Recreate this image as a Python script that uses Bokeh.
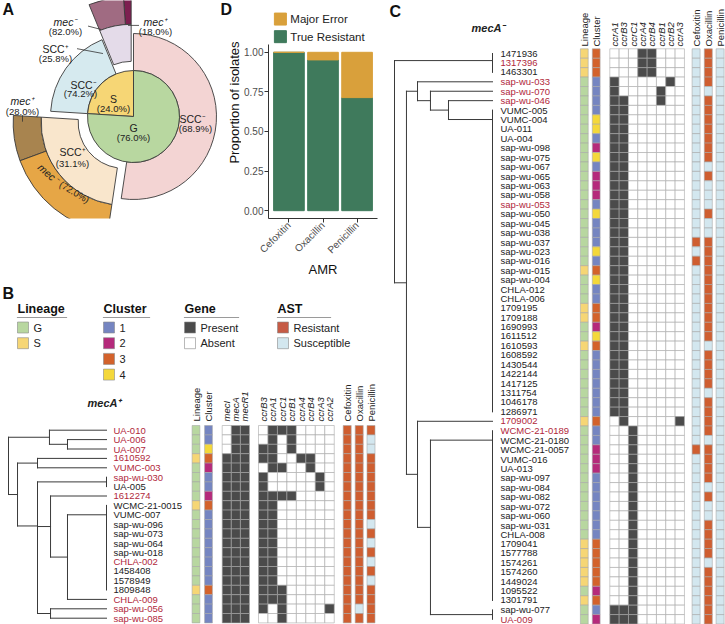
import math
from bokeh.plotting import figure
from bokeh.models import ColumnDataSource, Range1d, FactorRange, FixedTicker, NumeralTickFormatter
from bokeh.layouts import row, column
from bokeh.core.properties import value
from bokeh.embed import file_html
from bokeh.resources import INLINE

# ===================== DATA =====================
# Panel A : nested composition (percent)
lineages = ["S", "G"]
lineage_pct = [24.0, 76.0]
scc_groups = ["SCC+", "SCC-"]
scc_pct_S = [25.8, 74.2]
scc_pct_G = [31.1, 68.9]
mec_groups = ["mec+", "mec-"]
mec_pct_S = [18.0, 82.0]
mec_pct_G = [28.0, 72.0]

# Panel D : AST agreement
amr_drugs = ["Cefoxitin", "Oxacillin", "Penicillin"]
true_resistant = [1.0, 0.952, 0.714]
major_error = [0.0, 0.048, 0.286]

# Panel B : mecA+ isolates
b_isolates = ["UA-010", "UA-006", "UA-007", "1610592", "VUMC-003", "sap-wu-030", "UA-005",
              "1612274", "WCMC-21-0015", "VUMC-007", "sap-wu-096", "sap-wu-073", "sap-wu-064",
              "sap-wu-018", "CHLA-002", "1458408", "1578949", "1809848", "CHLA-009",
              "sap-wu-056", "sap-wu-085"]
b_highlight = [1, 1, 1, 1, 1, 1, 0, 1, 0, 0, 0, 0, 0, 0, 1, 0, 0, 0, 1, 1, 1]
b_lineage = list("GGGSGGGGSGGGGGGGGSGGG")
b_cluster = [1, 1, 4, 3, 2, 1, 1, 2, 3, 1, 1, 1, 1, 1, 1, 1, 1, 3, 1, 1, 1]
b_mec_genes = ["mecI", "mecA", "mecR1"]
b_mec = [[0, 1, 1]] * 3 + [[1, 1, 1]] * 18
b_ccr_genes = ["ccrB3", "ccrA1", "ccrC1", "ccrB1", "ccrA4", "ccrB4", "ccrA3", "ccrA2"]
b_ccr = [
    [0, 1, 1, 1, 0, 0, 0, 0],
    [0, 1, 0, 1, 0, 0, 0, 0],
    [1, 1, 0, 1, 0, 0, 0, 0],
    [1, 1, 0, 0, 1, 1, 0, 0],
    [0, 1, 1, 0, 0, 1, 0, 0],
    [1, 0, 0, 0, 0, 0, 1, 0],
    [1, 0, 0, 0, 0, 0, 1, 0],
    [1, 1, 1, 1, 0, 0, 0, 0],
    [1, 1, 0, 0, 0, 0, 0, 0],
    [1, 1, 0, 0, 0, 0, 0, 0],
    [1, 1, 0, 0, 0, 0, 0, 0],
    [1, 1, 0, 0, 0, 0, 0, 0],
    [1, 1, 0, 0, 0, 0, 0, 0],
    [1, 1, 0, 0, 0, 0, 0, 0],
    [1, 1, 0, 0, 0, 0, 0, 0],
    [1, 1, 0, 0, 0, 0, 0, 0],
    [1, 1, 0, 0, 0, 0, 0, 0],
    [1, 1, 1, 0, 0, 0, 0, 0],
    [1, 1, 1, 0, 0, 0, 0, 0],
    [1, 0, 1, 0, 0, 0, 0, 1],
    [0, 0, 1, 0, 0, 0, 0, 0],
]
b_cefoxitin = "RRRRRRRRRRRRRRRRRRRRR"
b_oxacillin = "RRRRRRRRRRRRRRRRRRRSR"
b_penicillin = "RSSRRRRRRRSRSRSRSRRRR"
b_tree = [1.0,
          [0.582, "UA-010", [0.398, "UA-006", "UA-007"]],
          [0.908,
           [0.704, "1610592", "VUMC-003"],
           [0.704,
            [0.0, "sap-wu-030", "UA-005"],
            [0.704,
             [0.571, "1612274",
              [0.398, [0.0] + b_isolates[8:18], "CHLA-009"]],
             [0.571, "sap-wu-056", "sap-wu-085"]]]]]

# Panel C : mecA- isolates
c_isolates = ["1471936", "1317396", "1463301", "sap-wu-033", "sap-wu-070", "sap-wu-046",
              "VUMC-005", "VUMC-004", "UA-011", "UA-004", "sap-wu-098", "sap-wu-075",
              "sap-wu-067", "sap-wu-065", "sap-wu-063", "sap-wu-058", "sap-wu-053",
              "sap-wu-050", "sap-wu-045", "sap-wu-038", "sap-wu-037", "sap-wu-023",
              "sap-wu-016", "sap-wu-015", "sap-wu-004", "CHLA-012", "CHLA-006", "1709195",
              "1709188", "1690993", "1611512", "1610593", "1608592", "1430544", "1422144",
              "1417125", "1311754", "1046178", "1286971", "1709002", "WCMC-21-0189",
              "WCMC-21-0180", "WCMC-21-0057", "VUMC-016", "UA-013", "sap-wu-097",
              "sap-wu-084", "sap-wu-082", "sap-wu-072", "sap-wu-060", "sap-wu-031",
              "CHLA-008", "1709041", "1577788", "1574261", "1574260", "1449024", "1095522",
              "1301791", "sap-wu-077", "UA-009"]
c_highlight_names = ["1317396", "sap-wu-033", "sap-wu-070", "sap-wu-046", "sap-wu-053",
                     "1709002", "WCMC-21-0189", "UA-009"]
c_lineage = list("SSSGGGGGGG" "GGGGGGGGGG" "GGGSGGGSSG" "GSGGGGGGGS" "GGGGGGGGGG" "GGSSSSSGSGG")
c_cluster = [3, 3, 3, 1, 1, 1, 1, 4, 4, 1,
             2, 4, 1, 2, 2, 2, 1, 4, 1, 1,
             1, 4, 1, 3, 4, 1, 1, 3, 3, 2,
             4, 3, 1, 1, 1, 1, 1, 1, 1, 3,
             1, 1, 2, 2, 2, 1, 1, 1, 1, 1,
             1, 1, 3, 3, 3, 3, 3, 2, 3, 1, 2]
c_ccr_genes = ["ccrA1", "ccrB3", "ccrC1", "ccrA4", "ccrB4", "ccrB1", "ccrB2", "ccrA3"]
c_ccr = ([[0, 0, 0, 1, 1, 0, 0, 0]] * 3 +
         [[1, 0, 0, 0, 0, 0, 1, 0],
          [1, 0, 0, 0, 0, 1, 0, 0],
          [1, 1, 0, 0, 0, 1, 0, 0]] +
         [[1, 1, 0, 0, 0, 0, 0, 0]] * 33 +
         [[0, 1, 0, 0, 0, 0, 0, 1]] +
         [[0, 0, 1, 0, 0, 0, 0, 0]] * 19 +
         [[1, 1, 1, 0, 0, 0, 0, 0]] * 2)
c_cefoxitin = "SSSSSSSSSS" "SSSSSSSSSS" "RSRSSSSSSS" "SSSSSSSSSS" "SSRSSSSSSS" "SSSSSSSSSSS"
c_oxacillin = "RRRRSRRRRR" "RRSRSSSRSS" "RRRRRRRRRR" "RSRRRRSRRR" "RSRRRRSRSS" "RRRRSRRRRRR"
c_penicillin = "S" * 61
c_tree = [1.0,
          [0.0, "1471936", "1317396", "1463301"],
          [0.878,
           [0.765, "sap-wu-033",
            [0.633, "sap-wu-070",
             [0.449, "sap-wu-046", [0.0] + c_isolates[6:39]]]],
           [0.765, "1709002",
            [0.633, [0.0] + c_isolates[40:59], [0.0, "sap-wu-077", "UA-009"]]]]]

legend_lineage = ["G", "S"]
legend_cluster = [1, 2, 3, 4]
legend_gene = ["Present", "Absent"]
legend_ast = ["Resistant", "Susceptible"]

# ===================== STYLE / LAYOUT =====================
FONT = "Liberation Sans"
TXT = "#222222"
RED_LABEL = "#b1283b"
LIN_COL = {"G": "#b8d7a0", "S": "#f6d675"}
CLU_COL = {1: "#7585c1", 2: "#b52a7b", 3: "#d3622b", 4: "#f4d83a"}
GENE_COL = {0: "#ffffff", 1: "#4b4b4b"}
AST_COL = {"R": "#cf5e30", "S": "#d3e7ef"}
GREEN_D, ORANGE_D = "#3f7a5c", "#d9a03b"

W, H = 725, 624
TOP_H = 280
A_W = 241
LEFT_W = 382
D_W = LEFT_W - A_W
C_W = W - LEFT_W
B_H = H - TOP_H


def canvas(w, h, xr, yr):
    p = figure(width=w, height=h, x_range=Range1d(*xr), y_range=Range1d(*yr),
               output_backend="svg", toolbar_location=None, min_border=0,
               x_axis_type=None, y_axis_type=None)
    p.outline_line_color = None
    return p


def texts(p, xs, ys, ss, size="10px", color=TXT, align="center", baseline="middle",
          style="normal", angle=0.0):
    n = len(xs)
    cols = color if isinstance(color, list) else [color] * n
    src = ColumnDataSource(dict(x=list(xs), y=[-v for v in ys], t=list(ss), c=cols))
    p.text(x="x", y="y", text="t", text_color="c", source=src, text_font=value(FONT),
           text_font_size=size, text_font_style=style, text_align=align,
           text_baseline=baseline, angle=angle)


def cells(p, xs, ys, w, h, colors, line="#a8a8a8"):
    src = ColumnDataSource(dict(x=list(xs), y=[-v for v in ys], c=list(colors)))
    p.rect(x="x", y="y", width=w, height=h, fill_color="c", line_color=line,
           line_width=0.6, source=src)


def segs(p, x0, y0, x1, y1, color="#333333", width=1.0):
    p.segment(x0=list(x0), y0=[-v for v in y0], x1=list(x1), y1=[-v for v in y1],
              line_color=color, line_width=width, line_cap="square")


def tree_segments(tree, y_of, x_tip, x_root):
    span = x_tip - x_root
    out = ([], [], [], [])

    def rec(n):
        if isinstance(n, str):
            return x_tip, y_of[n]
        h, kids = n[0], n[1:]
        x = x_tip - h * span
        pts = [rec(k) for k in kids]
        ys = [q[1] for q in pts]
        if h == 0 and len(kids) > 2:
            y = ys[-1]
            for v in reversed(ys[:-1]):
                y = (v + y) / 2
        else:
            y = sum(ys) / len(ys)
        for a, b in zip(out, (x, min(ys), x, max(ys))):
            a.append(b)
        for qx, qy in pts:
            if abs(qx - x) > 1e-9:
                for a, b in zip(out, (x, qy, qx, qy)):
                    a.append(b)
        return x, y

    rec(tree)
    return out


def sup(s):
    return s.replace("+", "\u207a").replace("-", "\u207b")


# ===================== PANEL A =====================
pA = canvas(A_W, TOP_H, (0, A_W), (-TOP_H, 0))
CX, CY = 133.0, 149.0
R0, R1, R2 = 46.0, 83.0, 111.0
EXPLODE = 12.0
DEG = math.pi / 180
SCC_COL = {("S", "SCC+"): "#e4dbe9", ("S", "SCC-"): "#d6eaef",
           ("G", "SCC+"): "#f9e6cc", ("G", "SCC-"): "#f3d4d3"}
MEC_COL = {("S", "mec+"): "#7d1f50", ("S", "mec-"): "#a06b82",
           ("G", "mec+"): "#a8844f", ("G", "mec-"): "#e6a646"}
scc_by = {"S": scc_pct_S, "G": scc_pct_G}
mec_by = {"S": mec_pct_S, "G": mec_pct_G}

pie, ring1, ring2 = [], [], []
start = 90.0
for name, pct in zip(lineages, lineage_pct):
    a0, a1 = start, start + pct / 100 * 360
    pie.append((a0, a1, LIN_COL[name]))
    s = a0
    for g, gp in zip(scc_groups, scc_by[name]):
        e = s + gp / 100 * (a1 - a0)
        off = EXPLODE if g == "SCC+" else 0.0
        mid = (s + e) / 2 * DEG
        ox, oy = CX + off * math.cos(mid), -CY + off * math.sin(mid)
        ring1.append((ox, oy, s, e, SCC_COL[(name, g)]))
        if g == "SCC+":
            m = s
            for mg, mp in zip(mec_groups, mec_by[name]):
                me = m + mp / 100 * (e - s)
                ring2.append((ox, oy, m, me, MEC_COL[(name, mg)]))
                m = me
        s = e
    start = a1

for rr, ri, ro in ((ring2, R1, R2), (ring1, R0, R1)):
    pA.annular_wedge(x=[r[0] for r in rr], y=[r[1] for r in rr], inner_radius=ri,
                     outer_radius=ro, start_angle=[r[2] * DEG for r in rr],
                     end_angle=[r[3] * DEG for r in rr], fill_color=[r[4] for r in rr],
                     line_color="#3a3a3a", line_width=0.9)
pA.wedge(x=[CX] * len(pie), y=[-CY] * len(pie), radius=R0,
         start_angle=[w[0] * DEG for w in pie], end_angle=[w[1] * DEG for w in pie],
         fill_color=[w[2] for w in pie], line_color="#3a3a3a", line_width=0.9)

texts(pA, [2, 220], [11, 11], ["A", "D"], size="16px", style="bold", align="left",
      color="#111111")
texts(pA, [113, 133], [126, 164], lineages, size="10.5px")
texts(pA, [113, 133], [139, 176], ["(%.1f%%)" % v for v in lineage_pct], size="9.5px")
texts(pA, [55, 83, 192, 72], [62, 109, 152, 195],
      [sup(scc_groups[0]), sup(scc_groups[1]), sup(scc_groups[1]), sup(scc_groups[0])],
      size="10.5px")
texts(pA, [55, 80, 195, 72], [74, 120, 164, 209],
      ["(%.1f%%)" % v for v in (scc_pct_S[0], scc_pct_S[1], scc_pct_G[1], scc_pct_G[0])],
      size="9.5px")
texts(pA, [65, 155, 22], [28, 28, 129],
      [sup(mec_groups[1]), sup(mec_groups[0]), sup(mec_groups[0])],
      size="10.5px", style="italic")
texts(pA, [65, 155, 22], [40, 40, 143],
      ["(%.1f%%)" % v for v in (mec_pct_S[1], mec_pct_S[0], mec_pct_G[0])], size="9.5px")
texts(pA, [48], [222], [sup(mec_groups[1])], size="10.5px", style="italic", angle=-0.72)
texts(pA, [74], [246], ["(%.1f%%)" % mec_pct_G[1]], size="9.5px", angle=-0.55)
segs(pA, [88, 128, 77, 22], [33, 32, 62, 148], [100, 138, 102, 22], [37, 32, 68, 155],
     color="#333333", width=0.8)
# y-axis title of panel D (sits in the gap left of D's axis)
texts(pA, [234], [131], ["Proportion of isolates"], size="13px", color="#111111",
      angle=math.pi / 2)

# ===================== PANEL D =====================
d_src = ColumnDataSource(dict(drug=amr_drugs, true_resistant=true_resistant,
                              major_error=major_error))
D_FRAME_L, D_FRAME_R, D_FRAME_B = 267, 377, 223
pD = figure(width=D_W, height=TOP_H,
            x_range=FactorRange(factors=amr_drugs, range_padding=0.1,
                                range_padding_units="absolute"),
            y_range=Range1d((215.0 - D_FRAME_B) / 162.0, 215.0 / 162.0),
            output_backend="svg", toolbar_location=None,
            min_border_left=D_FRAME_L - LEFT_W + D_W, min_border_right=LEFT_W - D_FRAME_R,
            min_border_top=0, min_border_bottom=TOP_H - D_FRAME_B)
pD.vbar_stack(["true_resistant", "major_error"], x="drug", width=0.9, source=d_src,
              color=[GREEN_D, ORANGE_D])
pD.outline_line_color = None
pD.grid.visible = False
pD.yaxis.ticker = FixedTicker(ticks=[0, 0.25, 0.5, 0.75, 1.0])
pD.yaxis.formatter = NumeralTickFormatter(format="0.00")
pD.yaxis.bounds = ((215.0 - D_FRAME_B) / 162.0, 1.05)
pD.xaxis.major_label_orientation = math.pi / 4
pD.xaxis.axis_label = "AMR"
for ax in (pD.xaxis[0], pD.yaxis[0]):
    ax.axis_line_color = "#333333"
    ax.axis_line_width = 1
    ax.major_tick_line_color = "#333333"
    ax.major_tick_out = 4
    ax.major_tick_in = 0
    ax.minor_tick_line_color = None
    ax.major_label_text_font = FONT
    ax.major_label_text_font_size = "10px"
    ax.major_label_text_color = "#4d4d4d"
    ax.major_label_standoff = 1
    ax.axis_label_text_font = FONT
    ax.axis_label_text_font_size = "13px"
    ax.axis_label_text_font_style = "normal"
    ax.axis_label_text_color = "#111111"
    ax.axis_label_standoff = 0


def dx(xr):
    return (xr - 267.0) / 34.375 - 0.1


def dy(yr):
    return (215.0 - yr) / 162.0


pD.scatter(x=[dx(279), dx(279)], y=[dy(19), dy(37)], marker="square", size=12,
           color=[ORANGE_D, GREEN_D])
pD.text(x=[dx(289), dx(289)], y=[dy(19), dy(37)], text=["Major Error", "True Resistant"],
        text_font=value(FONT), text_font_size="11.5px", text_color=TXT,
        text_baseline="middle", text_align="left")

# ===================== PANEL B =====================
pB = canvas(LEFT_W, B_H, (0, LEFT_W), (-H, -TOP_H))
texts(pB, [2], [293], ["B"], size="16px", style="bold", align="left", color="#111111")
leg_x = [17, 103, 184, 277]
leg_under = [66, 149, 238, 330]
texts(pB, leg_x, [308] * 4, ["Lineage", "Cluster", "Gene", "AST"], size="12.5px",
      style="bold", align="left", color="#111111")
segs(pB, leg_x, [317] * 4, leg_under, [317] * 4, color="#9a9a9a", width=1.2)
leg_items = [
    (legend_lineage, [LIN_COL[v] for v in legend_lineage]),
    ([str(v) for v in legend_cluster], [CLU_COL[v] for v in legend_cluster]),
    (legend_gene, [GENE_COL[1], GENE_COL[0]]),
    (legend_ast, ["#c65b45", AST_COL["S"]]),
]
for lx, (labs, cols) in zip(leg_x, leg_items):
    ys = [327 + 15.7 * i for i in range(len(labs))]
    cells(pB, [lx + 5.5] * len(labs), ys, 11, 11, cols, line="#8a8a8a")
    texts(pB, [lx + 16] * len(labs), ys, labs, size="11px", align="left")
texts(pB, [104], [402], ["mecA\u207a"], size="11px", style="bold italic")

B_ROW0, B_ROWH = 425.0, 9.4
B_TIP_X, B_ROOT_X, B_LABEL_X = 106.0, 8.0, 113.0
B_LIN_X, B_CLU_X, COLW = 195.5, 208.0, 7.8
B_MEC_X0, B_MEC_W = 221.7, 9.1
B_CCR_X0, B_CCR_W = 258.0, 9.47
B_AST_X, AST_W = [346.7, 358.7, 370.5], 8.0
B_HEAD_Y = 421.0

nb = len(b_isolates)
b_y = [B_ROW0 + B_ROWH * (i + 0.5) for i in range(nb)]
b_yof = dict(zip(b_isolates, b_y))
segs(pB, *tree_segments(b_tree, b_yof, B_TIP_X, B_ROOT_X), color="#3a3a3a", width=1.0)
texts(pB, [B_LABEL_X] * nb, b_y, b_isolates, size="9.5px", align="left",
      color=[RED_LABEL if h else TXT for h in b_highlight])

cells(pB, [B_LIN_X] * nb, b_y, COLW, B_ROWH, [LIN_COL[v] for v in b_lineage])
cells(pB, [B_CLU_X] * nb, b_y, COLW, B_ROWH, [CLU_COL[v] for v in b_cluster])
mx = [B_MEC_X0 + B_MEC_W * (j + 0.5) for j in range(len(b_mec_genes))]
cells(pB, [mx[j] for i in range(nb) for j in range(len(mx))],
      [b_y[i] for i in range(nb) for j in range(len(mx))], B_MEC_W, B_ROWH,
      [GENE_COL[b_mec[i][j]] for i in range(nb) for j in range(len(mx))])
cx_b = [B_CCR_X0 + B_CCR_W * (j + 0.5) for j in range(len(b_ccr_genes))]
cells(pB, [cx_b[j] for i in range(nb) for j in range(len(cx_b))],
      [b_y[i] for i in range(nb) for j in range(len(cx_b))], B_CCR_W, B_ROWH,
      [GENE_COL[b_ccr[i][j]] for i in range(nb) for j in range(len(cx_b))])
for ax_x, col in zip(B_AST_X, (b_cefoxitin, b_oxacillin, b_penicillin)):
    cells(pB, [ax_x] * nb, b_y, AST_W, B_ROWH, [AST_COL[v] for v in col])
texts(pB, [B_LIN_X, B_CLU_X] + B_AST_X, [B_HEAD_Y] * 5,
      ["Lineage", "Cluster"] + amr_drugs, size="9.5px", align="left", angle=math.pi / 2)
texts(pB, mx + cx_b, [B_HEAD_Y] * (len(mx) + len(cx_b)), b_mec_genes + b_ccr_genes,
      size="9.5px", align="left", angle=math.pi / 2, style="italic")

# ===================== PANEL C =====================
pC = canvas(C_W, H, (LEFT_W, W), (-H, 0.0))
texts(pC, [389], [11], ["C"], size="16px", style="bold", align="left", color="#111111")
texts(pC, [488], [27], ["mecA\u207b"], size="11px", style="bold italic")

C_ROW0, C_ROWH = 48.3, 9.43
C_TIP_X, C_ROOT_X, C_LABEL_X = 492.0, 394.0, 500.0
C_LIN_X, C_CLU_X = 583.8, 595.7
C_CCR_X0, C_CCR_W = 609.3, 9.33
C_AST_X = [695.6, 707.8, 719.6]
C_HEAD_Y = 46.0

nc = len(c_isolates)
c_y = [C_ROW0 + C_ROWH * (i + 0.5) for i in range(nc)]
c_yof = dict(zip(c_isolates, c_y))
segs(pC, *tree_segments(c_tree, c_yof, C_TIP_X, C_ROOT_X), color="#3a3a3a", width=1.0)
texts(pC, [C_LABEL_X] * nc, c_y, c_isolates, size="9.5px", align="left",
      color=[RED_LABEL if n in c_highlight_names else TXT for n in c_isolates])
cells(pC, [C_LIN_X] * nc, c_y, COLW, C_ROWH, [LIN_COL[v] for v in c_lineage])
cells(pC, [C_CLU_X] * nc, c_y, COLW, C_ROWH, [CLU_COL[v] for v in c_cluster])
cx_c = [C_CCR_X0 + C_CCR_W * (j + 0.5) for j in range(len(c_ccr_genes))]
cells(pC, [cx_c[j] for i in range(nc) for j in range(len(cx_c))],
      [c_y[i] for i in range(nc) for j in range(len(cx_c))], C_CCR_W, C_ROWH,
      [GENE_COL[c_ccr[i][j]] for i in range(nc) for j in range(len(cx_c))])
for ax_x, col in zip(C_AST_X, (c_cefoxitin, c_oxacillin, c_penicillin)):
    cells(pC, [ax_x] * nc, c_y, AST_W, C_ROWH, [AST_COL[v] for v in col])
texts(pC, [C_LIN_X, C_CLU_X] + C_AST_X, [C_HEAD_Y] * 5,
      ["Lineage", "Cluster"] + amr_drugs, size="9.5px", align="left", angle=math.pi / 2)
texts(pC, cx_c, [C_HEAD_Y] * len(cx_c), c_ccr_genes, size="9.5px", align="left",
      angle=math.pi / 2, style="italic")

layout = row(column(row(pA, pD), pB), pC)
open("out.html", "w").write(file_html(layout, INLINE))
